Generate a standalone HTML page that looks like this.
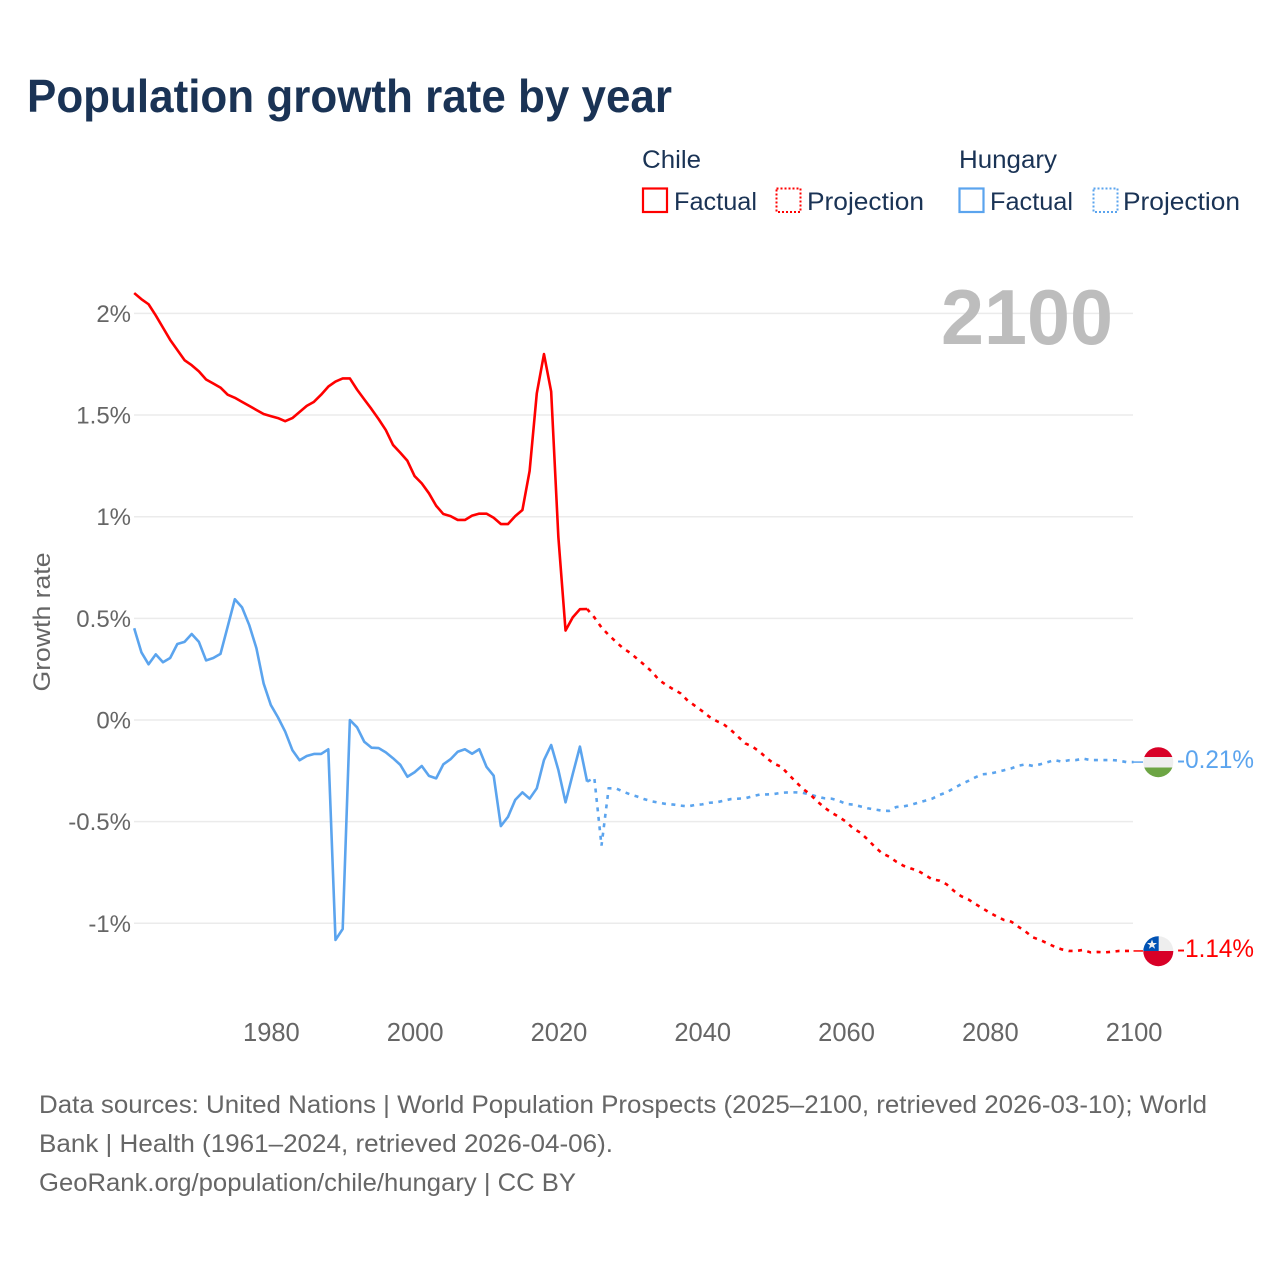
<!DOCTYPE html>
<html lang="en">
<head>
<meta charset="utf-8">
<title>Population growth rate by year</title>
<style>
html,body{margin:0;padding:0;background:#fff}
svg{display:block}
text{font-family:"Liberation Sans",sans-serif}
</style>
</head>
<body>
<svg id="chart" xmlns="http://www.w3.org/2000/svg" width="1280" height="1280" viewBox="0 0 1280 1280">
  <rect width="1280" height="1280" fill="#fff"/>
  <text x="27" y="112" font-size="46" font-weight="700" fill="#1a3355" textLength="645" lengthAdjust="spacingAndGlyphs">Population growth rate by year</text>

  <g>
    <text x="642" y="168" font-size="25" fill="#1a3355" textLength="59" lengthAdjust="spacingAndGlyphs">Chile</text>
    <rect x="643" y="188.5" width="24" height="23.5" fill="none" stroke="#ff0000" stroke-width="2.2"/>
    <text x="674" y="210" font-size="25" fill="#1a3355" textLength="83" lengthAdjust="spacingAndGlyphs">Factual</text>
    <rect x="776.5" y="188.5" width="24" height="23.5" fill="none" stroke="#ff0000" stroke-width="2" stroke-dasharray="2 2"/>
    <text x="807" y="210" font-size="25" fill="#1a3355" textLength="117" lengthAdjust="spacingAndGlyphs">Projection</text>
    <text x="959" y="168" font-size="25" fill="#1a3355" textLength="98" lengthAdjust="spacingAndGlyphs">Hungary</text>
    <rect x="959.5" y="188.5" width="24" height="23.5" fill="none" stroke="#5ba4ee" stroke-width="2.2"/>
    <text x="990" y="210" font-size="25" fill="#1a3355" textLength="83" lengthAdjust="spacingAndGlyphs">Factual</text>
    <rect x="1093.5" y="188.5" width="24" height="23.5" fill="none" stroke="#5ba4ee" stroke-width="2" stroke-dasharray="2 2"/>
    <text x="1123" y="210" font-size="25" fill="#1a3355" textLength="117" lengthAdjust="spacingAndGlyphs">Projection</text>
  </g>

  <text transform="translate(50,622) rotate(-90)" text-anchor="middle" font-size="24" fill="#666" textLength="139" lengthAdjust="spacingAndGlyphs">Growth rate</text>
  <g id="grid"></g>
  <g id="yticks"></g>
  <g id="xticks"></g>
  <text x="941" y="344" font-size="78" font-weight="700" fill="#bdbdbd" textLength="172" lengthAdjust="spacingAndGlyphs">2100</text>
  <g id="series"></g>

  <defs>
    <clipPath id="flag-clip-hu"><circle cx="1158.3" cy="762.2" r="15"/></clipPath>
    <clipPath id="flag-clip-cl"><circle cx="1158.3" cy="951.2" r="15"/></clipPath>
  </defs>
  <g clip-path="url(#flag-clip-hu)">
    <rect x="1143" y="747" width="31" height="10" fill="#d80027"/>
    <rect x="1143" y="757" width="31" height="10.5" fill="#eeeeee"/>
    <rect x="1143" y="767.5" width="31" height="10" fill="#6da544"/>
  </g>
  <g clip-path="url(#flag-clip-cl)">
    <rect x="1143" y="936" width="31" height="15" fill="#eeeeee"/>
    <rect x="1143" y="936" width="15.7" height="15" fill="#0052b4"/>
    <rect x="1143" y="951" width="31" height="16" fill="#d80027"/>
    <polygon points="1152,939.5 1153.3,943 1157,943 1154,945.2 1155.1,948.7 1152,946.6 1148.9,948.7 1150,945.2 1147,943 1150.7,943" fill="#eeeeee"/>
  </g>
  <text x="1177" y="768" font-size="25" fill="#5ba4ee" textLength="77" lengthAdjust="spacingAndGlyphs">-0.21%</text>
  <text x="1177" y="957" font-size="25" fill="#ff0000" textLength="77" lengthAdjust="spacingAndGlyphs">-1.14%</text>

  <g font-size="25" fill="#666">
    <text x="39" y="1113" textLength="1168" lengthAdjust="spacingAndGlyphs">Data sources: United Nations | World Population Prospects (2025–2100, retrieved 2026-03-10); World</text>
    <text x="39" y="1152" textLength="574" lengthAdjust="spacingAndGlyphs">Bank | Health (1961–2024, retrieved 2026-04-06).</text>
    <text x="39" y="1191" textLength="537" lengthAdjust="spacingAndGlyphs">GeoRank.org/population/chile/hungary | CC BY</text>
  </g>
</svg>
<script>
const firstFactualYear = 1961;
const firstProjectionYear = 2025;
const xTickYears = [1980, 2000, 2020, 2040, 2060, 2080, 2100];
const xTickLabels = ["1980", "2000", "2020", "2040", "2060", "2080", "2100"];
const yTickValues = [2, 1.5, 1, 0.5, 0, -0.5, -1];
const yTickLabels = ["2%", "1.5%", "1%", "0.5%", "0%", "-0.5%", "-1%"];

const chileFactual = [
  2.10,2.07,2.045,1.99,1.93,1.87,1.82,1.77,1.745,1.715,
  1.675,1.655,1.635,1.60,1.585,1.565,1.545,1.525,1.505,1.495,
  1.485,1.47,1.485,1.515,1.545,1.565,1.60,1.64,1.665,1.68,
  1.68,1.625,1.577,1.53,1.48,1.426,1.353,1.315,1.275,1.20,
  1.164,1.115,1.054,1.013,1.003,.984,.984,1.005,1.015,1.015,
  .995,.964,.964,1.003,1.033,1.225,1.607,1.80,1.615,.90,
  .44,.505,.545,.546
];
const chileProjection = [
  .505,.455,.418,.385,.353,.33,.30,.27,.238,.197,
  .172,.151,.131,.095,.07,.044,.016,-.005,-.021,-.049,
  -.082,-.115,-.131,-.156,-.188,-.215,-.23,-.267,-.303,-.338,
  -.365,-.40,-.43,-.456,-.476,-.50,-.533,-.554,-.587,-.623,
  -.655,-.672,-.697,-.717,-.73,-.741,-.762,-.784,-.79,-.808,
  -.84,-.866,-.882,-.905,-.926,-.948,-.967,-.984,-.992,-1.017,
  -1.041,-1.069,-1.082,-1.098,-1.115,-1.128,-1.136,-1.136,-1.131,-1.143,
  -1.141,-1.143,-1.14,-1.136,-1.136,-1.136
];
const hungaryFactual = [
  .451,.333,.274,.323,.284,.305,.374,.384,.423,.384,
  .293,.305,.325,.459,.594,.554,.467,.353,.18,.074,
  .013,-.057,-.148,-.198,-.177,-.167,-.167,-.144,-1.082,-1.028,
  0,-.036,-.107,-.136,-.138,-.159,-.188,-.22,-.279,-.257,
  -.226,-.275,-.287,-.218,-.193,-.156,-.144,-.166,-.144,-.23,
  -.274,-.522,-.476,-.393,-.356,-.387,-.336,-.197,-.123,-.246,
  -.405,-.266,-.131,-.303
];
const hungaryProjection = [
  -.284,-.618,-.336,-.336,-.352,-.366,-.377,-.39,-.40,-.407,
  -.413,-.416,-.421,-.425,-.418,-.415,-.407,-.405,-.397,-.389,
  -.387,-.385,-.375,-.367,-.366,-.364,-.358,-.356,-.356,-.358,
  -.366,-.377,-.385,-.387,-.397,-.413,-.416,-.425,-.434,-.44,
  -.446,-.447,-.428,-.425,-.418,-.407,-.397,-.387,-.369,-.356,
  -.336,-.316,-.30,-.282,-.267,-.264,-.256,-.247,-.238,-.225,
  -.218,-.226,-.218,-.208,-.197,-.205,-.198,-.197,-.19,-.197,
  -.197,-.197,-.197,-.20,-.207,-.207
];

const NS = "http://www.w3.org/2000/svg";
const RED = "#ff0000";
const BLUE = "#5ba4ee";
function xScale(year) { return 134.2 + (year - 1961) * (999.3 / 139); }
function yScale(value) { return 720 - value * 203.3; }

function svgEl(tag, parent, attrs) {
  const el = document.createElementNS(NS, tag);
  for (const k in attrs) el.setAttribute(k, attrs[k]);
  parent.appendChild(el);
  return el;
}

const gridG = document.getElementById("grid");
const yTickG = document.getElementById("yticks");
const xTickG = document.getElementById("xticks");
const seriesG = document.getElementById("series");

yTickValues.forEach(function (v, i) {
  const line = svgEl("line", gridG, { x1: 134, x2: 1133, y1: yScale(v), y2: yScale(v), stroke: "#ebebeb", "stroke-width": 1.5 });
  
  
  const t = svgEl("text", yTickG, { x: 131, y: yScale(v) + 8.5, "text-anchor": "end", "font-size": 24, fill: "#666" });
  
  
  t.textContent = yTickLabels[i];
});

xTickYears.forEach(function (yr, i) {
  const t = svgEl("text", xTickG, { x: xScale(yr) + 0.6, y: 1041, "text-anchor": "middle", "font-size": 25.5, fill: "#666" });
  
  
  t.textContent = xTickLabels[i];
});

function pathFrom(startYear, values, prefix) {
  let d = prefix || "";
  values.forEach(function (v, i) {
    const cmd = (d === "") ? "M" : "L";
    d += cmd + xScale(startYear + i).toFixed(2) + " " + yScale(v).toFixed(2);
  });
  return d;
}

function drawCountry(factual, projection, color) {
  const lastFactualYear = firstFactualYear + factual.length - 1;
  const lastVal = factual[factual.length - 1];
  const joinStart = "M" + xScale(lastFactualYear).toFixed(2) + " " + yScale(lastVal).toFixed(2);

  const proj = svgEl("path", seriesG, { d: pathFrom(firstProjectionYear, projection, joinStart), fill: "none", stroke: color, "stroke-width": 2.6, "stroke-dasharray": "4 5.5" });
  
  

  const fact = svgEl("path", seriesG, { d: pathFrom(firstFactualYear, factual), fill: "none", stroke: color, "stroke-width": 2.6, "stroke-linejoin": "round" });
  
  

  const endVal = projection[projection.length - 1];
  const endYear = firstProjectionYear + projection.length - 1;
  const lead = svgEl("line", seriesG, { x1: xScale(endYear), x2: 1143, y1: yScale(endVal), y2: yScale(endVal), stroke: color, "stroke-width": 1.5 });
  
  
}

drawCountry(hungaryFactual, hungaryProjection, BLUE);
drawCountry(chileFactual, chileProjection, RED);
</script>
</body>
</html>
